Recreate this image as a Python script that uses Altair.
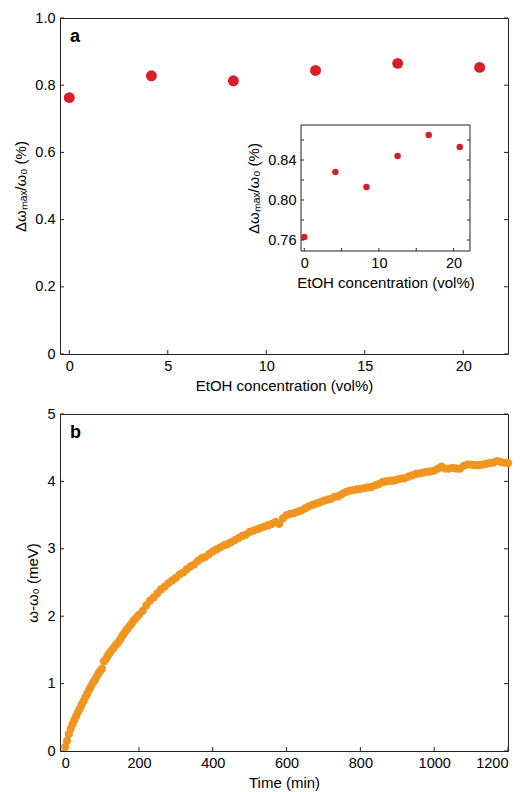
import altair as alt
import pandas as pd

# ---------------- data ----------------
conc = [0, 4.17, 8.33, 12.5, 16.67, 20.83]
shift = [0.763, 0.828, 0.813, 0.844, 0.865, 0.853]

time_min = list(range(0, 200, 5)) + list(range(200, 1201, 10))
omega = [0.06, 0.15, 0.25, 0.33, 0.40, 0.46, 0.52, 0.58, 0.63, 0.69,
         0.74, 0.80, 0.85, 0.91, 0.96, 1.01, 1.05, 1.10, 1.15, 1.19,
         1.22, 1.33, 1.36, 1.41, 1.45, 1.49, 1.52, 1.56, 1.59, 1.62,
         1.66, 1.71, 1.75, 1.79, 1.82, 1.86, 1.89, 1.93, 1.96, 1.99,
         2.02, 2.08, 2.16, 2.23, 2.28, 2.34, 2.40, 2.44, 2.49, 2.53,
         2.57, 2.62, 2.65, 2.70, 2.74, 2.77, 2.82, 2.86, 2.88, 2.92,
         2.96, 2.99, 3.02, 3.05, 3.07, 3.10, 3.13, 3.16, 3.19, 3.21,
         3.25, 3.27, 3.29, 3.31, 3.33, 3.35, 3.37, 3.40, 3.37, 3.45,
         3.50, 3.52, 3.53, 3.55, 3.57, 3.60, 3.63, 3.65, 3.67, 3.69,
         3.71, 3.73, 3.74, 3.77, 3.78, 3.81, 3.84, 3.86, 3.87, 3.88,
         3.89, 3.90, 3.91, 3.92, 3.94, 3.96, 3.99, 4.00, 4.01, 4.01,
         4.03, 4.04, 4.05, 4.07, 4.09, 4.11, 4.12, 4.13, 4.14, 4.15,
         4.16, 4.19, 4.22, 4.19, 4.19, 4.20, 4.19, 4.19, 4.23, 4.25,
         4.25, 4.24, 4.24, 4.25, 4.26, 4.27, 4.28, 4.30, 4.29, 4.28,
         4.27]

a_xticks = [0, 5, 10, 15, 20]
a_yticks = [0, 0.2, 0.4, 0.6, 0.8, 1.0]
inset_xticks = [0, 5, 10, 15, 20]
inset_xlabels = [0, 10, 20]
inset_yticks = [0.76, 0.78, 0.80, 0.82, 0.84, 0.86]
inset_ylabels = [0.76, 0.80, 0.84]
b_xticks = [0, 200, 400, 600, 800, 1000, 1200]
b_yticks = [0, 1, 2, 3, 4, 5]

# ---------------- style ----------------
RED = "#d81e27"
ORANGE = "#f0951f"
FONT = "Liberation Sans"
FRAME = "#222222"
W, H = 448, 336
HB = 337
TL = 4
# inset placement (pixels inside panel a plot area)
IL, IR, IT, IB = 241, 410, 107, 233
INS_XDOM = [-0.44, 22.2]
INS_YDOM = [0.749, 0.875]

one = pd.DataFrame({"d": [0]})


def ticks_y(vals, x0, x1, yenc, field):
    df = pd.DataFrame({field: vals})
    return alt.Chart(df).mark_rule(color=FRAME, strokeWidth=1).encode(
        y=yenc, x=alt.value(x0), x2=alt.value(x1))


def ticks_x(vals, y0, y1, xenc, field):
    df = pd.DataFrame({field: vals})
    return alt.Chart(df).mark_rule(color=FRAME, strokeWidth=1).encode(
        x=xenc, y=alt.value(y0), y2=alt.value(y1))


# ---------------- panel a ----------------
da = pd.DataFrame({"c": conc, "v": shift})
xa = alt.X("c:Q", scale=alt.Scale(domain=[-0.47, 22.27], nice=False, zero=False),
           axis=alt.Axis(values=a_xticks, format="d", title="EtOH concentration (vol%)"))
ya = alt.Y("v:Q", scale=alt.Scale(domain=[0, 1], nice=False, zero=False),
           axis=alt.Axis(values=a_yticks, title="Δωₘₐₓ/ω₀ (%)",
                         labelExpr="datum.value == 0 ? '0' : format(datum.value, '.1f')"))

pts_a = alt.Chart(da).mark_circle(size=120, color=RED, opacity=1).encode(x=xa, y=ya)
label_a = alt.Chart(one).mark_text(text="a", font=FONT, fontSize=18, fontWeight="bold",
                                   align="left", baseline="middle", color="#000").encode(
    x=alt.value(10), y=alt.value(19))

main_a = alt.layer(
    pts_a,
    ticks_y(a_yticks, 0, TL, ya, "v"),
    ticks_y(a_yticks, W - TL, W, ya, "v"),
    ticks_x(a_xticks, H - TL, H, xa, "c"),
    label_a,
)

xi = alt.X("c:Q", scale=alt.Scale(domain=INS_XDOM, range=[IL, IR], nice=False, zero=False),
           axis=alt.Axis(values=inset_xlabels, format="d", orient="bottom",
                         offset=-(H - IB), title="EtOH concentration (vol%)"))
yi = alt.Y("v:Q", scale=alt.Scale(domain=INS_YDOM, range=[IB, IT], nice=False, zero=False),
           axis=alt.Axis(values=inset_ylabels, format=".2f", orient="left",
                         offset=-IL, title="Δωₘₐₓ/ω₀ (%)"))

frame_i = alt.Chart(one).mark_rect(fill="white", stroke=FRAME, strokeWidth=1).encode(
    x=alt.value(IL), x2=alt.value(IR), y=alt.value(IT), y2=alt.value(IB))

pts_i = alt.Chart(da).mark_circle(size=42, color=RED, opacity=1).encode(x=xi, y=yi)

inset = alt.layer(
    frame_i,
    pts_i,
    ticks_y(inset_yticks, IL, IL + 3, yi, "v"),
    ticks_y(inset_yticks, IR - 3, IR, yi, "v"),
    ticks_x(inset_xticks, IB - 3, IB, xi, "c"),
)

panel_a = alt.layer(main_a, inset).resolve_scale(x="independent", y="independent").properties(
    width=W, height=H)

# ---------------- panel b ----------------
dbb = pd.DataFrame({"t": time_min, "w": omega})
xb = alt.X("t:Q", scale=alt.Scale(domain=[-14, 1200], nice=False, zero=False),
           axis=alt.Axis(values=b_xticks, format="d", title="Time (min)"))
yb = alt.Y("w:Q", scale=alt.Scale(domain=[0, 5], nice=False, zero=False),
           axis=alt.Axis(values=b_yticks, format="d", title="ω-ω₀  (meV)"))

pts_b = alt.Chart(dbb).mark_circle(size=68, color=ORANGE, opacity=1).encode(x=xb, y=yb)
label_b = alt.Chart(one).mark_text(text="b", font=FONT, fontSize=18, fontWeight="bold",
                                   align="left", baseline="middle", color="#000").encode(
    x=alt.value(10), y=alt.value(19))

panel_b = alt.layer(
    ticks_y(b_yticks, 0, TL, yb, "w"),
    ticks_y(b_yticks, W - TL, W, yb, "w"),
    ticks_x(b_xticks, HB - TL, HB, xb, "t"),
    pts_b,
    label_b,
).properties(width=W, height=HB)

chart = alt.vconcat(panel_a, panel_b, spacing=11).properties(
    padding={"left": 5, "top": 1, "right": 2, "bottom": 0}
).configure_view(
    stroke=FRAME, strokeWidth=1
).configure_axis(
    labelFont=FONT, titleFont=FONT, labelFontSize=14.5, titleFontSize=15,
    titleFontWeight="normal", labelColor="#000", titleColor="#000",
    ticks=False, domain=False, grid=False, labelPadding=5, titlePadding=6,
)

chart.save("out.html", embed_options={"renderer": "svg", "actions": False})
